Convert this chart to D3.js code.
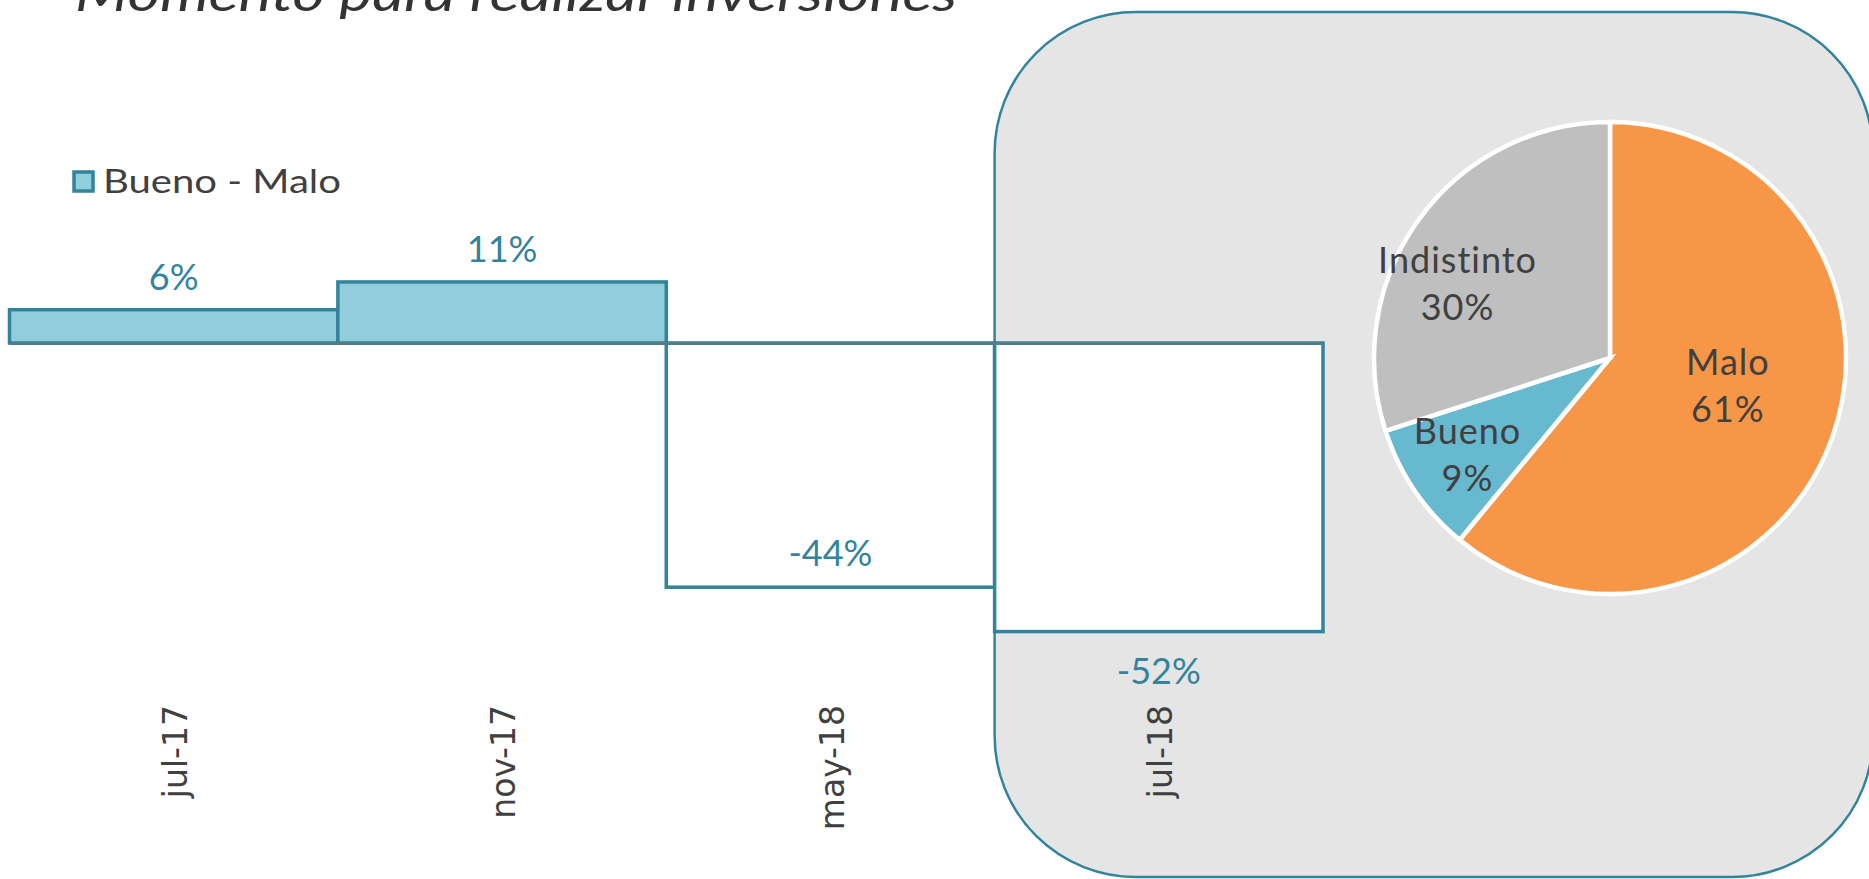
<!DOCTYPE html>
<html><head><meta charset="utf-8">
<script src="https://cdn.jsdelivr.net/npm/d3@7"></script>
<style>html,body{margin:0;padding:0;background:#fff;overflow:hidden}</style>
</head><body>
<svg id="c" width="1869" height="879"></svg>
<script>
// ---- data ----
const chartTitle = "Momento para realizar inversiones";
const categories = ["jul-17", "nov-17", "may-18", "jul-18"];
const balanceValues = [6, 11, -44, -52];          // Bueno - Malo (%)
const seriesName = "Bueno - Malo";
const labelPlacement = ["outside", "outside", "inside", "outside"];
const pieCategories = ["Malo", "Bueno", "Indistinto"];
const pieValues = [61, 9, 30];                     // jul-18 (%)

// ---- style ----
const teal = "#31849B", barFill = "#92CDDC", txt = "#404040";
const pieColors = ["#F79646", "#67B9CF", "#BFBFBF"];
const labelNudge = [[-42, -41], [-2, -10], [-15, 15]];

const svg = d3.select("#c");

const x = d3.scaleBand().domain(categories).range([9.5, 1323]).padding(0);
const y = d3.scaleLinear().domain([-60, 20]).range([676, 232]);

// highlight panel behind last period
const px = x(categories[categories.length - 1]);
svg.append("rect")
  .attr("x", px).attr("y", 12).attr("width", 1873 - px).attr("height", 865)
  .attr("rx", 141).attr("ry", 141)
  .attr("fill", "#E5E5E5").attr("stroke", teal).attr("stroke-width", 2.5);

// pie
const cx = 1610, cy = 358, R = 236;
const pie = d3.pie().sort(null).value(d => d)(pieValues);
const arc = d3.arc().innerRadius(0).outerRadius(R);
const labelArc = d3.arc().innerRadius(R * 0.72).outerRadius(R * 0.72);
const pg = svg.append("g").attr("transform", `translate(${cx},${cy})`);
pg.selectAll("path").data(pie).join("path")
  .attr("d", arc).attr("fill", (d, i) => pieColors[i])
  .attr("stroke", "#fff").attr("stroke-width", 4.5);
pg.selectAll("text.pl").data(pie).join("text").attr("class", "pl")
  .attr("text-anchor", "middle")
  .attr("font-family", "Lato, sans-serif").attr("font-size", 36)
  .attr("letter-spacing", 1).attr("fill", txt)
  .each(function (d, i) {
    const c = labelArc.centroid(d);
    const lx = c[0] + labelNudge[i][0], ly = c[1] + labelNudge[i][1];
    const t = d3.select(this);
    t.append("tspan").attr("x", lx).attr("y", ly).text(pieCategories[i]);
    t.append("tspan").attr("x", lx).attr("y", ly + 47).text(d.data + "%");
  });

// bars
svg.append("g").selectAll("rect").data(balanceValues).join("rect")
  .attr("x", (d, i) => x(categories[i]))
  .attr("width", x.bandwidth())
  .attr("y", d => y(Math.max(0, d)))
  .attr("height", d => Math.abs(y(d) - y(0)))
  .attr("fill", d => d >= 0 ? barFill : "#fff")
  .attr("stroke", teal).attr("stroke-width", 3.5);

// axis
const ax = svg.append("g").attr("transform", `translate(0,${y(0)})`)
  .call(d3.axisBottom(x).tickSize(0).tickSizeOuter(0));
ax.select(".domain").attr("stroke", "#557D89").attr("stroke-width", 3);
ax.selectAll(".tick text")
  .attr("transform", "rotate(-90)")
  .attr("x", -(705 - y(0))).attr("y", 0).attr("dy", "0.4em")
  .attr("text-anchor", "end")
  .attr("font-family", "DejaVu Sans, sans-serif").attr("font-size", 33)
  .attr("fill", txt);

// bar labels
svg.append("g").selectAll("text").data(balanceValues).join("text")
  .attr("x", (d, i) => x(categories[i]) + x.bandwidth() / 2)
  .attr("y", (d, i) => {
    if (d >= 0) return y(d) - 20;
    return labelPlacement[i] === "inside" ? y(d) - 21 : y(d) + 52;
  })
  .attr("text-anchor", "middle")
  .attr("font-family", "Lato, sans-serif").attr("font-size", 36)
  .attr("fill", teal)
  .text(d => d + "%");

// legend
svg.append("rect").attr("x", 74).attr("y", 172).attr("width", 19).attr("height", 19)
  .attr("fill", barFill).attr("stroke", teal).attr("stroke-width", 3.5);
svg.append("text").attr("x", 103).attr("y", 193)
  .attr("font-family", "Lato, sans-serif").attr("font-size", 33).attr("fill", txt)
  .attr("textLength", 238).attr("lengthAdjust", "spacingAndGlyphs")
  .text(seriesName);

// title (partially cut off at top)
svg.append("text").attr("x", 75).attr("y", 11)
  .attr("font-family", "Lato, sans-serif").attr("font-style", "italic")
  .attr("font-size", 48).attr("fill", "#333")
  .attr("textLength", 882).attr("lengthAdjust", "spacingAndGlyphs")
  .text(chartTitle);
</script>
</body></html>
